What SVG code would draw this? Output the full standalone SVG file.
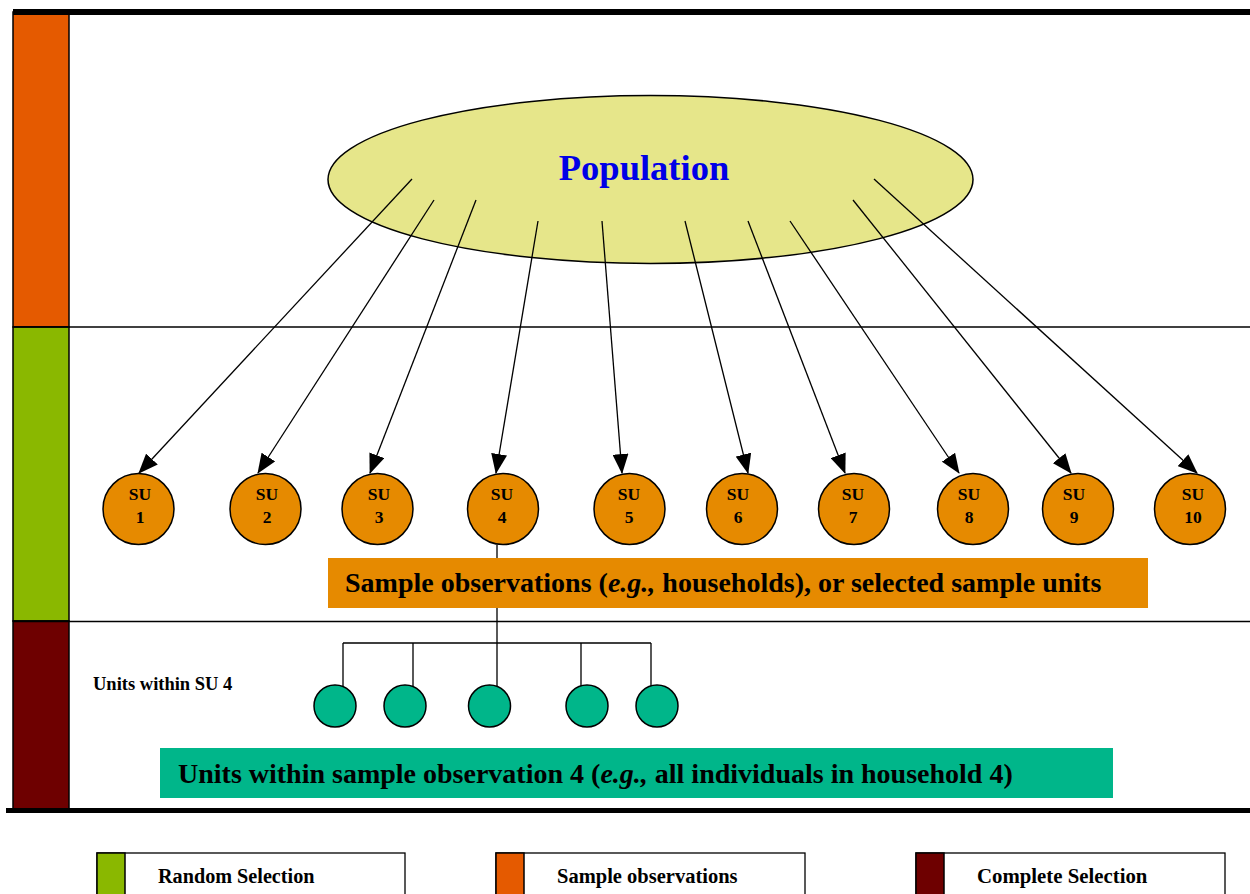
<svg xmlns="http://www.w3.org/2000/svg" width="1250" height="894" viewBox="0 0 1250 894">
<style>
.t{font-family:"Liberation Serif","Times New Roman",serif;font-weight:bold;fill:#000}
.su{fill:#E68A00;stroke:#000;stroke-width:1.5}
.sub{fill:#00B68A;stroke:#000;stroke-width:1.5}
.conn{stroke:#000;stroke-width:1.3;fill:none}
.arr{marker-end:url(#ah)}
.sep{stroke:#000;stroke-width:1.6}
.bar{stroke:#000;stroke-width:1.5}
.lg{fill:#fff;stroke:#000;stroke-width:1.3}
</style>
<defs>
<marker id="ah" markerWidth="20" markerHeight="16" refX="19" refY="8" orient="auto" markerUnits="userSpaceOnUse">
<path d="M0,0 L20,8 L0,16 z" fill="#000"/>
</marker>
</defs>
<rect width="1250" height="894" fill="#fff"/>

<g id="frame">
<rect class="bar" x="13" y="12" width="56" height="315" fill="#E55A00"/>
<rect class="bar" x="13" y="327" width="56" height="294" fill="#8AB800"/>
<rect class="bar" x="13" y="621" width="56" height="189" fill="#6E0000"/>
<line x1="13" y1="12" x2="1250" y2="12" stroke="#000" stroke-width="6"/>
<line class="sep" x1="13" y1="327" x2="1250" y2="327"/>
<line class="sep" x1="13" y1="621.5" x2="1250" y2="621.5"/>
<line x1="6" y1="810.5" x2="1250" y2="810.5" stroke="#000" stroke-width="5"/>
</g>

<g id="population">
<ellipse cx="650.5" cy="179.5" rx="322.5" ry="84" fill="#E6E68A" stroke="#000" stroke-width="1.5"/>
<text class="t" x="644" y="180" font-size="36.5" text-anchor="middle" style="fill:#0000E6">Population</text>
</g>

<g id="connectors">
<line class="conn arr" x1="412" y1="179" x2="139" y2="473"/>
<line class="conn arr" x1="434" y1="200" x2="258" y2="473"/>
<line class="conn arr" x1="476" y1="200" x2="370" y2="473"/>
<line class="conn arr" x1="538" y1="221" x2="496" y2="473"/>
<line class="conn arr" x1="602" y1="221" x2="622" y2="473"/>
<line class="conn arr" x1="685" y1="221" x2="748" y2="473"/>
<line class="conn arr" x1="748" y1="221" x2="845" y2="473"/>
<line class="conn arr" x1="790" y1="221" x2="959" y2="473"/>
<line class="conn arr" x1="853" y1="200" x2="1071" y2="473"/>
<line class="conn arr" x1="874" y1="179" x2="1197" y2="473"/>
<path class="conn" d="M497,545 V643 M343,643 H651 M343,643 V688 M413,643 V686 M497,643 V686 M581,643 V686 M651,643 V688"/>
</g>

<g id="su1"><circle class="su" cx="138.5" cy="509" r="35.5"/><text class="t" font-size="17.5" text-anchor="middle" x="140" y="500">SU</text><text class="t" font-size="17.5" text-anchor="middle" x="140" y="523">1</text></g>
<g id="su2"><circle class="su" cx="265.5" cy="509" r="35.5"/><text class="t" font-size="17.5" text-anchor="middle" x="267" y="500">SU</text><text class="t" font-size="17.5" text-anchor="middle" x="267" y="523">2</text></g>
<g id="su3"><circle class="su" cx="377.5" cy="509" r="35.5"/><text class="t" font-size="17.5" text-anchor="middle" x="379" y="500">SU</text><text class="t" font-size="17.5" text-anchor="middle" x="379" y="523">3</text></g>
<g id="su4"><circle class="su" cx="503" cy="509" r="35.5"/><text class="t" font-size="17.5" text-anchor="middle" x="502" y="500">SU</text><text class="t" font-size="17.5" text-anchor="middle" x="502" y="523">4</text></g>
<g id="su5"><circle class="su" cx="629.5" cy="509" r="35.5"/><text class="t" font-size="17.5" text-anchor="middle" x="629" y="500">SU</text><text class="t" font-size="17.5" text-anchor="middle" x="629" y="523">5</text></g>
<g id="su6"><circle class="su" cx="742" cy="509" r="35.5"/><text class="t" font-size="17.5" text-anchor="middle" x="738" y="500">SU</text><text class="t" font-size="17.5" text-anchor="middle" x="738" y="523">6</text></g>
<g id="su7"><circle class="su" cx="854" cy="509" r="35.5"/><text class="t" font-size="17.5" text-anchor="middle" x="853" y="500">SU</text><text class="t" font-size="17.5" text-anchor="middle" x="853" y="523">7</text></g>
<g id="su8"><circle class="su" cx="973" cy="509" r="35.5"/><text class="t" font-size="17.5" text-anchor="middle" x="969" y="500">SU</text><text class="t" font-size="17.5" text-anchor="middle" x="969" y="523">8</text></g>
<g id="su9"><circle class="su" cx="1078" cy="509" r="35.5"/><text class="t" font-size="17.5" text-anchor="middle" x="1074" y="500">SU</text><text class="t" font-size="17.5" text-anchor="middle" x="1074" y="523">9</text></g>
<g id="su10"><circle class="su" cx="1190" cy="509" r="35.5"/><text class="t" font-size="17.5" text-anchor="middle" x="1193" y="500">SU</text><text class="t" font-size="17.5" text-anchor="middle" x="1193" y="523">10</text></g>

<g id="sample-label">
<rect x="328" y="558" width="820" height="50" fill="#E68A00"/>
<text class="t" x="345" y="592" font-size="28">Sample observations (<tspan font-style="italic">e.g.,</tspan> households), or selected sample units</text>
</g>

<g id="units-label">
<text class="t" x="93" y="690" font-size="18.5">Units within SU 4</text>
</g>

<g id="unit1"><circle class="sub" cx="335" cy="706" r="21"/></g>
<g id="unit2"><circle class="sub" cx="405" cy="706" r="21"/></g>
<g id="unit3"><circle class="sub" cx="489.5" cy="706" r="21"/></g>
<g id="unit4"><circle class="sub" cx="587" cy="706" r="21"/></g>
<g id="unit5"><circle class="sub" cx="657" cy="706" r="21"/></g>

<g id="within-label">
<rect x="160" y="748" width="953" height="50" fill="#00B68A"/>
<text class="t" x="178" y="783" font-size="28">Units within sample observation 4 (<tspan font-style="italic">e.g.,</tspan> all individuals in household 4)</text>
</g>

<g id="legend-random">
<rect class="lg" x="97" y="853" width="308" height="50"/>
<rect class="bar" x="97" y="853" width="28" height="50" fill="#8AB800"/>
<text class="t" x="158" y="883" font-size="20.2">Random Selection</text>
</g>
<g id="legend-sample">
<rect class="lg" x="496" y="853" width="309" height="50"/>
<rect class="bar" x="496" y="853" width="28" height="50" fill="#E55A00"/>
<text class="t" x="557" y="883" font-size="20.5">Sample observations</text>
</g>
<g id="legend-complete">
<rect class="lg" x="916" y="853" width="309" height="50"/>
<rect class="bar" x="916" y="853" width="28" height="50" fill="#6E0000"/>
<text class="t" x="977" y="883" font-size="20.8">Complete Selection</text>
</g>
</svg>
